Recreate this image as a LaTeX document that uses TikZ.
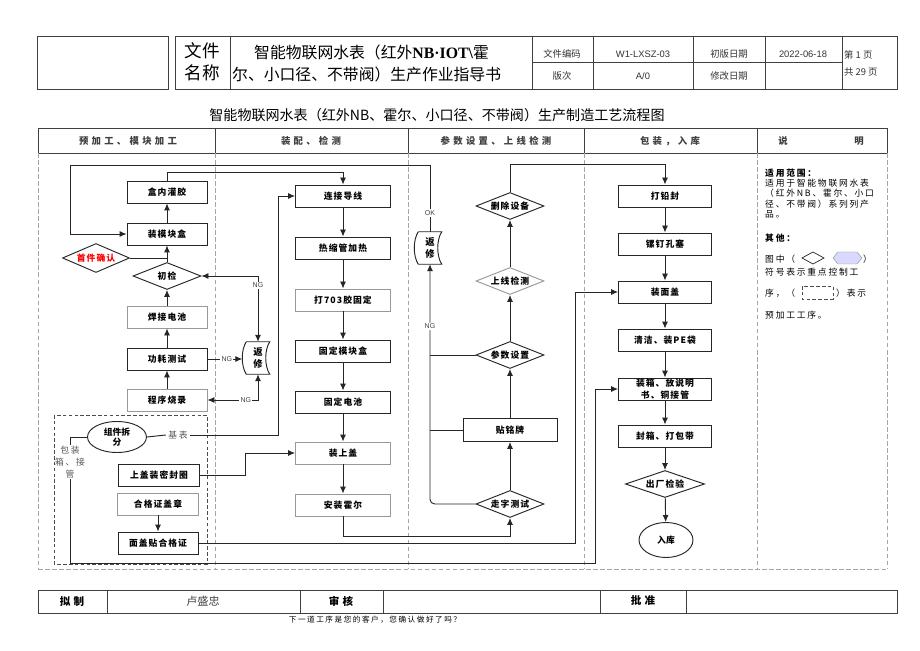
\documentclass[tikz,border=0pt]{standalone}
\usepackage{fontspec}
\setmainfont{Noto Sans CJK SC}
\newfontfamily\boxfont[LetterSpace=12]{Noto Sans CJK SC}
\newfontfamily\widefont[LetterSpace=20]{Noto Sans CJK SC}
\newfontfamily\headfont[LetterSpace=35]{Noto Sans CJK SC}
\newfontfamily\nbfont{Liberation Serif}
\newfontfamily\arialfont{Liberation Sans}
\usetikzlibrary{shapes.geometric,positioning,calc,arrows.meta}

\tikzset{
  rule/.style={draw=black!75, line width=0.6pt},
  guide/.style={draw=black!35, line width=0.5pt, dash pattern=on 4pt off 2pt},
  prebox/.style={draw=black!70, line width=0.6pt, dash pattern=on 3pt off 2pt},
  link/.style={draw=black!85, line width=0.8pt},
  flow/.style={link, -{Latex[length=2.1mm,width=1.8mm]}},
  twoway/.style={link, {Latex[length=2.1mm,width=1.8mm]}-{Latex[length=2.1mm,width=1.8mm]}},
  proc/.style={rectangle, draw=black!85, line width=0.8pt, minimum width=24mm, minimum height=6.6mm,
    inner sep=0pt, align=center, font=\boxfont\bfseries\fontsize{7.5}{9.5}\selectfont},
  wide/.style={minimum width=28.5mm},
  faint/.style={draw=black!40},
  check/.style={diamond, shape aspect=2.5, draw=black!85, line width=0.8pt, minimum width=20.4mm,
    minimum height=8.1mm, inner sep=0pt, font=\boxfont\bfseries\fontsize{7.5}{9}\selectfont},
  rework/.style={minimum width=6.9mm, minimum height=9.6mm, inner sep=0pt, align=center,
    font=\bfseries\fontsize{8}{9.5}\selectfont},
  part/.style={ellipse, draw=black!85, line width=0.8pt, minimum width=17.7mm, minimum height=9.3mm,
    inner sep=0pt, align=center, font=\bfseries\fontsize{7.5}{9}\selectfont},
  terminal/.style={ellipse, draw=black!85, line width=0.8pt, minimum width=16.2mm, minimum height=10.5mm,
    inner sep=0pt, font=\bfseries\fontsize{7.5}{9}\selectfont},
  nglabel/.style={fill=white, inner sep=1pt, font=\arialfont\fontsize{6}{7}\selectfont, text=black!75},
  note/.style={inner sep=2pt, align=center, text=black!65, font=\widefont\fontsize{7.5}{9}\selectfont},
  colhead/.style={text=black!75, font=\headfont\bfseries\fontsize{8}{9}\selectfont},
  cell/.style={text=black!80, font=\fontsize{8}{9}\selectfont},
  legendline/.style={anchor=west, inner sep=0pt, font=\widefont\fontsize{7.5}{9}\selectfont},
  sign/.style={font=\bfseries\fontsize{9}{10}\selectfont}
}

\begin{document}
\begin{tikzpicture}[x=0.3mm,y=-0.3mm]
  % page
  \useasboundingbox (0,0) rectangle (920,651);
  \fill[white] (0,0) rectangle (920,651);

  % document header
  \draw[rule] (37,36) rectangle (168,89);
  \draw[rule] (175,36) rectangle (897,89);
  \foreach \x in {230,532,593,693,765,842} \draw[rule] (\x,36) -- (\x,89);
  \draw[rule] (532,62) -- (842,62);
  \node[font=\fontsize{15}{19}\selectfont, align=center] (docname) at (202,62) {文件\\名称};
  \node[anchor=west, inner sep=0pt, font=\fontsize{13.5}{15}\selectfont] (title1) at (254,52)
    {智能物联网水表（红外{\nbfont\bfseries NB·IOT\textbackslash}霍};
  \node[anchor=west, inner sep=0pt, font=\fontsize{13.5}{15}\selectfont] (title2) at (232,74)
    {尔、小口径、不带阀）生产作业指导书};
  \node[cell] (code) at (562,54) {文件编码};
  \node[cell, font=\arialfont\fontsize{8}{9}\selectfont] (codeval) at (643,54) {W1-LXSZ-03};
  \node[cell] (first date) at (729,54) {初版日期};
  \node[cell, font=\arialfont\fontsize{8}{9}\selectfont] (dateval) at (803,54) {2022-06-18};
  \node[cell] (version) at (562,76) {版次};
  \node[cell, font=\arialfont\fontsize{8}{9}\selectfont] (versionval) at (643,76) {A/0};
  \node[cell] (revdate) at (729,76) {修改日期};
  \node[cell, anchor=west, inner sep=0pt] (page) at (844,55) {第 1 页};
  \node[cell, anchor=west, inner sep=0pt] (pages) at (844,72) {共 29 页};

  % chart title
  \node[font=\fontsize{12}{14}\selectfont] (charttitle) at (437,115)
    {智能物联网水表（红外NB、霍尔、小口径、不带阀）生产制造工艺流程图};

  % chart frame
  \draw[rule] (38,128) rectangle (887,153);
  \foreach \x in {215,408,584,757} \draw[rule] (\x,128) -- (\x,153);
  \foreach \x in {38,215,408,584,757,887} \draw[guide] (\x,153) -- (\x,569);
  \draw[guide] (38,569) -- (887,569);
  \node[colhead] (head1) at (128,141) {预加工、模块加工};
  \node[colhead] (head2) at (311,141) {装配、检测};
  \node[colhead] (head3) at (496,141) {参数设置、上线检测};
  \node[colhead] (head4) at (670,141) {包装，入库};
  \node[colhead] (head5) at (821,141) {说\hspace{20mm}明};

  % column 1: module work
  \node[proc] (glue) at (167,192) {盒内灌胶};
  \node[proc] (modbox) at (167,234) {装模块盒};
  \node[check, minimum width=20.1mm, minimum height=8.7mm, text=red] (firstpc) at (96,258) {首件确认};
  \node[check] (inspect) at (167,276) {初检};
  \node[proc, faint] (weld) at (167,317) {焊接电池};
  \node[proc] (power) at (167,359) {功耗测试};
  \node[proc, faint] (burn) at (167,400) {程序烧录};
  \node[rework] (rwa) at (258,358) {返\\修};

  % pre-processing group
  \draw[prebox] (54,415) rectangle (207,564);
  \node[part] (split) at (117,437) {组件拆\\分};
  \node[note] (base) at (178,435) {基表};
  \node[note, inner sep=1pt, font=\widefont\fontsize{7.5}{10}\selectfont] (pack) at (70,462) {包装\\箱、接\\管};
  \node[proc, minimum width=24.3mm] (sealring) at (159,475) {上盖装密封圈};
  \node[proc, faint, minimum width=24.3mm] (stamp) at (158,504) {合格证盖章};
  \node[proc] (cert) at (158,543) {面盖贴合格证};

  % column 2: assembly
  \node[proc, wide] (wire) at (343,196) {连接导线};
  \node[proc, wide] (heat) at (343,248) {热缩管加热};
  \node[proc, wide, faint] (glue703) at (343,300) {打703胶固定};
  \node[proc, wide] (fixbox) at (343,351) {固定模块盒};
  \node[proc, wide] (fixbat) at (343,402) {固定电池};
  \node[proc, wide, faint] (cap) at (343,453) {装上盖};
  \node[proc, wide, faint] (hall) at (343,505) {安装霍尔};

  % column 3: parameters
  \node[check] (remove) at (510,206) {删除设备};
  \node[check, faint] (online) at (510,281) {上线检测};
  \node[check] (param) at (510,355) {参数设置};
  \node[proc, minimum width=28.2mm, minimum height=6.9mm] (plate) at (510,430) {贴铭牌};
  \node[check] (meter) at (510,504) {走字测试};
  \node[rework] (rwb) at (430,248) {返\\修};

  % column 4: packing
  \node[proc, minimum width=27.9mm] (lead) at (665,196) {打铅封};
  \node[proc, minimum width=27.9mm] (plug) at (665,244) {镙钉孔塞};
  \node[proc, minimum width=27.9mm] (cover) at (665,292) {装面盖};
  \node[proc, minimum width=27.9mm] (clean) at (665,340) {清洁、装PE袋};
  \node[proc, minimum width=27.9mm, font=\boxfont\bfseries\fontsize{7.5}{10}\selectfont] (boxing) at (665,389) {装箱、放说明\\书、铜接管};
  \node[proc, minimum width=27.9mm] (strap) at (665,436) {封箱、打包带};
  \node[check, minimum width=23.7mm] (final) at (665,484) {出厂检验};
  \node[terminal] (store) at (666,540) {入库};

  % rework outlines
  \foreach \n in {rwa,rwb}
    \draw[link] (\n.north west) -- (\n.north east)
      .. controls +(-1.6mm,-2.5mm) and +(-1.6mm,2.5mm) .. (\n.south east) -- (\n.south west)
      .. controls +(-1.6mm,2.5mm) and +(-1.6mm,-2.5mm) .. (\n.north west);

  % column 1 flow
  \foreach \a/\b in {burn/power, power/weld, weld/inspect, inspect/modbox, modbox/glue}
    \draw[flow] (\a) -- (\b);
  \draw[link] (firstpc.east) -- (firstpc.east -| modbox.south);
  \draw[flow, shorten >=1.2mm] (power.east) -- node[nglabel]{NG} (power.east -| rwa.west);
  \draw[twoway] (inspect.east) -| node[nglabel, pos=0.57]{NG} (rwa.north);
  \draw[twoway] (burn.east) -| node[nglabel, pos=0.38]{NG} (rwa.south);

  % OK back to module box
  \coordinate (okturn) at (70,165);
  \draw[flow] (rwb.north) |- node[nglabel, pos=0.14]{OK} (okturn) |- (modbox.west);
  \draw[flow] (glue.north) -- ++(0,-8) -| (wire.north);

  % pre-processing links
  \coordinate (baseturn) at (278,435);
  \coordinate (packturn) at (595,563);
  \coordinate (certturn) at (575,543);
  \draw[link] (split.east) -- (base.west);
  \draw[flow] (base.east) -- (baseturn) |- (wire.west);
  \draw[link] (split.west) -| (pack.north);
  \draw[flow] (pack.south) |- (packturn) |- (boxing.west);
  \draw[flow] (sealring.east) -- ++(45,0) |- (cap.west);
  \draw[flow] (stamp) -- (cert);
  \draw[flow] (cert.east) -- (certturn) |- (cover.west);

  % column 2 flow
  \foreach \a/\b in {wire/heat, heat/glue703, glue703/fixbox, fixbox/fixbat, fixbat/cap, cap/hall}
    \draw[flow] (\a) -- (\b);
  \draw[flow] (hall.south) -- ++(0,20) -| (meter.south);

  % column 3 flow
  \foreach \a/\b in {meter/plate, plate/param, param/online, online/remove}
    \draw[flow] (\a) -- (\b);
  \draw[flow, rounded corners=4] (meter.west) -| node[nglabel, pos=0.87]{NG} (rwb.south);
  \draw[link] (plate.west) -- (plate.west -| rwb.south);
  \draw[link] (param.west) -- (param.west -| rwb.south);
  \draw[flow] (remove.north) -- ++(0,-28) -| (lead.north);

  % column 4 flow
  \foreach \a/\b in {lead/plug, plug/cover, cover/clean, clean/boxing, boxing/strap, strap/final, final/store}
    \draw[flow] (\a) -- (\b);

  % notes
  \node[legendline, font=\widefont\bfseries\fontsize{7.5}{9}\selectfont] (scope) at (765,173) {适用范围：};
  \foreach \y/\t [count=\i] in {183/适用于智能物联网水表, 193/（红外NB、霍尔、小口, 204/径、不带阀）系列列产, 214/品。}
    \node[legendline] (scope\i) at (765,\y) {\t};
  \node[legendline, font=\widefont\bfseries\fontsize{7.5}{9}\selectfont] (other) at (765,238) {其他：};
  \node[legendline] (other1) at (765,259) {图中（};
  \node[legendline] (other2) at (863,259) {）};
  \node[legendline] (other3) at (765,272) {符号表示重点控制工};
  \node[legendline] (other4) at (765,293) {序，（};
  \node[legendline] (other5) at (836,293) {）表示};
  \node[legendline] (other6) at (765,315) {预加工工序。};
  \draw[link, line width=0.6pt] (802,258) -- (813,252) -- (824,258) -- (813,264) -- cycle;
  \draw[draw=black!40, fill=blue!15] (833,258) -- (838,252) -- (857,252) -- (862,258) -- (857,264) -- (838,264) -- cycle;
  \draw[prebox] (802,286) rectangle (833,299);

  % sign-off table
  \draw[rule] (38,590) rectangle (897,613);
  \foreach \x in {107,300,383,600,686} \draw[rule] (\x,590) -- (\x,613);
  \node[sign] (drafted) at (72,601) {拟\hspace{1mm}制};
  \node[font=\fontsize{9.5}{10}\selectfont, text=black!75] (drafter) at (203,601) {卢盛忠};
  \node[sign] (checked) at (341,601) {审\hspace{1mm}核};
  \node[sign] (approved) at (643,601) {批\hspace{1mm}准};
  \node[font=\widefont\fontsize{6.5}{7}\selectfont] (motto) at (375,620) {下一道工序是您的客户，您确认做好了吗？};
\end{tikzpicture}
\end{document}
